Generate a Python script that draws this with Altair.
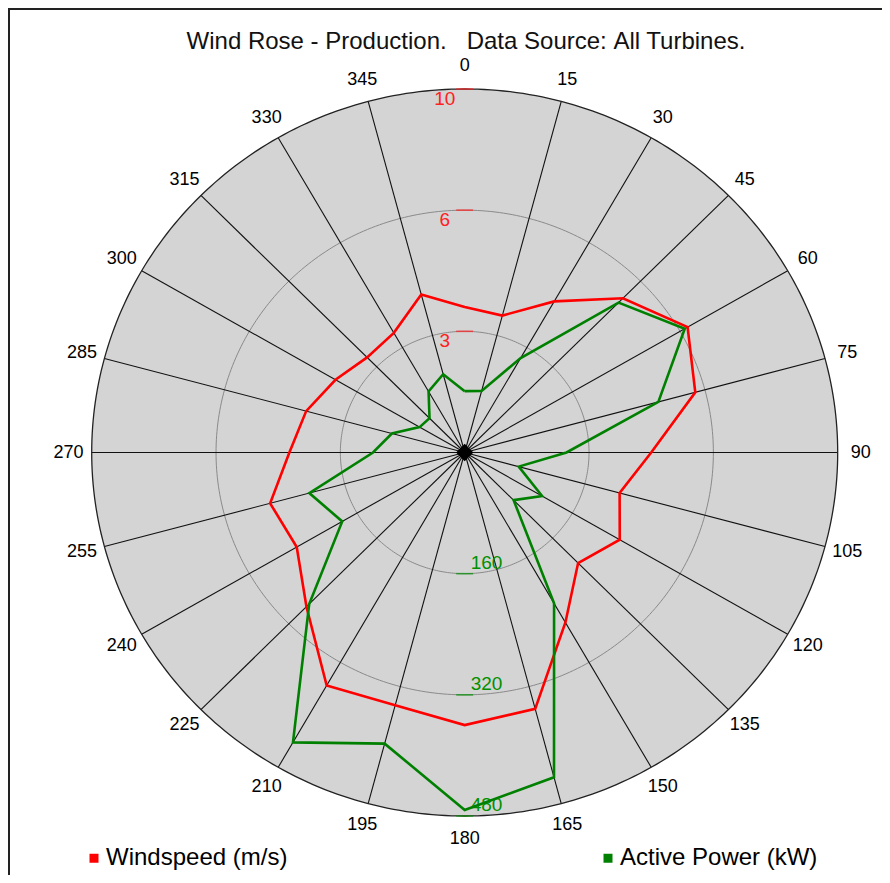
import altair as alt
import numpy as np
import pandas as pd

# ---------------- data ----------------
directions = [0, 15, 30, 45, 60, 75, 90, 105, 120, 135, 150, 165,
              180, 195, 210, 225, 240, 255, 270, 285, 300, 315, 330, 345]
windspeed = [4.0, 3.9, 4.8, 6.0, 6.9, 6.4, 5.0, 4.3, 4.8, 4.3, 5.4, 7.3,
             7.5, 7.2, 7.4, 6.0, 5.2, 5.4, 4.7, 4.4, 4.0, 3.7, 3.8, 4.5]
active_power = [81, 84, 144, 280, 327, 258, 131, 72, 115, 89, 230, 444,
                472, 398, 442, 283, 182, 207, 118, 97, 67, 64, 93, 107]
speed_max = 10
power_max = 480
ring_fractions = [1 / 3, 2 / 3, 1]
speed_tick_labels = ["3", "6", "10"]
power_tick_labels = ["160", "320", "480"]
series_names = ["Windspeed (m/s)", "Active Power (kW)"]
series_colors = ["#ff0000", "#008000"]
angle_labels = [str(a) for a in directions]
spoke_angles = [a for a in directions if a not in (0, 180)]
title_text = "Wind Rose - Production.\u00a0\u00a0\u00a0Data Source:\u00a0All Turbines."

# ---------------- layout of the polar frame ----------------
W, H = 874, 867
CX, CY = 456.7, 444.5      # centre of the rose inside the plot area (px)
RX, RY = 373.0, 363.5      # radius of the rose in x and y (px)
LABEL_R = 1.062
FONT = "Liberation Sans"

xs = alt.Scale(domain=[-CX / RX, (W - CX) / RX], range=[0, W], zero=False, nice=False)
ys = alt.Scale(domain=[-(H - CY) / RY, CY / RY], range=[H, 0], zero=False, nice=False)
X = lambda f: alt.X(f, type="quantitative", scale=xs, axis=None)
Y = lambda f: alt.Y(f, type="quantitative", scale=ys, axis=None)

# background disc
disc_df = pd.DataFrame({"t": np.linspace(0, 180, 721)})
disc = alt.Chart(disc_df).transform_calculate(
    cx="cos(datum.t*PI/180)", top="sin(datum.t*PI/180)", bot="-sin(datum.t*PI/180)"
).mark_area(color="#d4d4d4", opacity=1).encode(
    x=X("cx"), y=Y("top"), y2="bot:Q"
)

# rings
ring_df = pd.DataFrame(
    [(f, t) for f in ring_fractions for t in range(0, 361, 1)], columns=["frac", "t"]
)
ring_base = alt.Chart(ring_df).transform_calculate(
    rx="datum.frac*sin(datum.t*PI/180)", ry="datum.frac*cos(datum.t*PI/180)"
)
grid = ring_base.transform_filter("datum.frac < 0.99").mark_line(
    color="#8a8a8a", strokeWidth=1
).encode(x=X("rx"), y=Y("ry"), detail="frac:N", order="t:Q")
outline = ring_base.transform_filter("datum.frac > 0.99").mark_line(
    color="#222222", strokeWidth=1.3
).encode(x=X("rx"), y=Y("ry"), order="t:Q")

# spokes
spokes = alt.Chart(pd.DataFrame({"angle": spoke_angles})).transform_calculate(
    x0="0", y0="0",
    x1="sin(datum.angle*PI/180)", y1="cos(datum.angle*PI/180)"
).mark_rule(color="#111111", strokeWidth=1.1).encode(
    x=X("x0"), y=Y("y0"), x2="x1:Q", y2="y1:Q"
)

# radial scale ticks & labels
tick_df = pd.DataFrame({
    "frac": ring_fractions,
    "speed": speed_tick_labels,
    "power": power_tick_labels,
})
tick_base = alt.Chart(tick_df).transform_calculate(zero="0", neg="-datum.frac")
red_ticks = tick_base.mark_tick(orient="horizontal", size=17, thickness=1.6, color="#ff2020").encode(
    x=X("zero"), y=Y("frac")
)
green_ticks = tick_base.mark_tick(orient="horizontal", size=17, thickness=1.6, color="#009000").encode(
    x=X("zero"), y=Y("neg")
)
red_labels = tick_base.mark_text(
    align="center", baseline="top", dx=-20, dy=1, fontSize=19, font=FONT, color="#ff2020"
).encode(x=X("zero"), y=Y("frac"), text="speed:N")
green_labels = tick_base.mark_text(
    align="left", baseline="bottom", dx=6, dy=-1, fontSize=19, font=FONT, color="#009000"
).encode(x=X("zero"), y=Y("neg"), text="power:N")

# data polygons
rows = []
for name, vals, vmax in [(series_names[0], windspeed, speed_max),
                         (series_names[1], active_power, power_max)]:
    for d, v in zip(directions, vals):
        rows.append({"series": name, "dir": d, "value": v, "vmax": vmax})
    rows.append({"series": name, "dir": 360, "value": vals[0], "vmax": vmax})
poly_df = pd.DataFrame(rows)
polys = alt.Chart(poly_df).transform_calculate(
    px="datum.value/datum.vmax*sin(datum.dir*PI/180)",
    py="datum.value/datum.vmax*cos(datum.dir*PI/180)",
).mark_line(strokeWidth=2.6, strokeJoin="miter").encode(
    x=X("px"), y=Y("py"), order="dir:Q", detail="series:N",
    color=alt.Color(
        "series:N",
        scale=alt.Scale(domain=series_names, range=series_colors),
        legend=alt.Legend(
            orient="none", legendX=74, legendY=838, direction="horizontal", title=None,
            symbolType="square", symbolSize=9, symbolStrokeWidth=6, symbolOpacity=1,
            labelFontSize=24, labelFont=FONT, labelColor="black", labelOffset=0,
            labelLimit=1000, columnPadding=306, padding=0,
        ),
    ),
)

# centre diamond
centre = alt.Chart(pd.DataFrame({"c": [0]})).transform_calculate(cx="0", cy="0").mark_point(
    shape="diamond", filled=True, size=300, color="black", opacity=1
).encode(x=X("cx"), y=Y("cy"))

# direction labels
alab = alt.Chart(pd.DataFrame({"angle": directions, "label": angle_labels})).transform_calculate(
    lx=f"{LABEL_R}*sin(datum.angle*PI/180)", ly=f"{LABEL_R}*cos(datum.angle*PI/180)"
).mark_text(fontSize=18, font=FONT, color="black", align="center", baseline="middle").encode(
    x=X("lx"), y=Y("ly"), text="label:N"
)

# title
title = alt.Chart(pd.DataFrame({"t": [title_text]})).mark_text(
    fontSize=24, font=FONT, color="#111111", align="center", baseline="middle"
).encode(text="t:N", x=alt.value(458), y=alt.value(34))

# frame lines (top and left border of the picture)
frame_top = alt.Chart(pd.DataFrame({"k": [0]})).mark_rule(color="#222222", strokeWidth=2).encode(
    x=alt.value(0), x2=alt.value(W), y=alt.value(1)
)
frame_left = alt.Chart(pd.DataFrame({"k": [0]})).mark_rule(color="#222222", strokeWidth=2).encode(
    x=alt.value(1), y=alt.value(0), y2=alt.value(H)
)

chart = alt.layer(
    disc, grid, spokes, outline, red_ticks, green_ticks, red_labels, green_labels,
    polys, centre, alab, title, frame_top, frame_left
).properties(
    width=W, height=H, autosize=alt.AutoSizeParams(type="none"), padding=0
).configure_view(strokeWidth=0, stroke="transparent")

chart.save("out.html", embed_options={"renderer": "svg", "actions": False})
